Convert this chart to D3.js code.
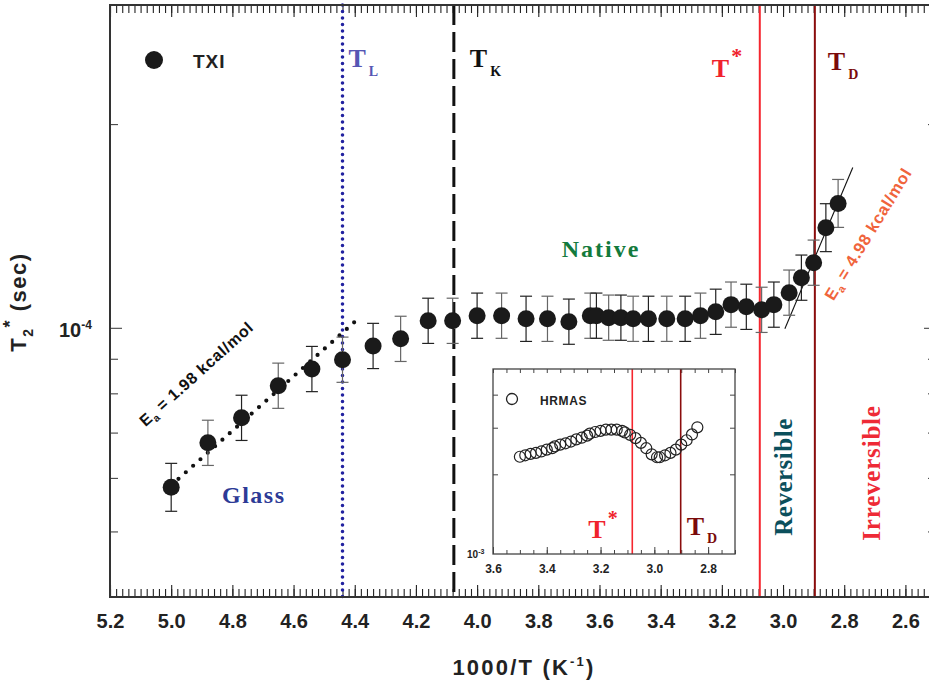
<!DOCTYPE html>
<html>
<head>
<meta charset="utf-8">
<script src="https://cdn.jsdelivr.net/npm/d3@7"></script>
<style>
body { margin: 0; background: #fff; }
text { font-family: "Liberation Sans", Arial, sans-serif; font-weight: bold; }
.serif { font-family: "Liberation Serif", "Times New Roman", serif; font-weight: bold; }
</style>
</head>
<body>
<div id="chart"></div>
<script>
// TXI: T2* (sec) against 1000/T
var invT = [5.00, 4.88, 4.77, 4.65, 4.54, 4.44, 4.34, 4.25, 4.16, 4.08,
    4.00, 3.92, 3.84, 3.77, 3.70, 3.63, 3.61, 3.57, 3.53, 3.49,
    3.44, 3.38, 3.32, 3.27, 3.22, 3.17, 3.12, 3.07, 3.03, 2.98,
    2.94, 2.90, 2.86, 2.82];
var t2 = [5.81e-5, 6.76e-5, 7.36e-5, 8.21e-5, 8.69e-5, 8.97e-5, 9.40e-5, 9.63e-5, 1.024e-4, 1.024e-4,
    1.042e-4, 1.042e-4, 1.031e-4, 1.031e-4, 1.021e-4, 1.042e-4, 1.042e-4, 1.035e-4, 1.035e-4, 1.031e-4,
    1.031e-4, 1.031e-4, 1.031e-4, 1.042e-4, 1.056e-4, 1.082e-4, 1.074e-4, 1.063e-4, 1.082e-4, 1.127e-4,
    1.186e-4, 1.248e-4, 1.406e-4, 1.527e-4];
// relative error (bars are symmetric on the log axis)
var t2Err = [0.085, 0.08, 0.08, 0.08, 0.08, 0.08, 0.08, 0.08, 0.08, 0.08,
    0.08, 0.08, 0.08, 0.08, 0.08, 0.08, 0.08, 0.08, 0.08, 0.08,
    0.08, 0.08, 0.08, 0.08, 0.08, 0.08, 0.08, 0.08, 0.08, 0.08,
    0.08, 0.08, 0.085, 0.085];

// HRMAS inset
var hrmasX = [3.50, 3.48, 3.46, 3.44, 3.42, 3.40, 3.38, 3.37, 3.35, 3.33,
    3.31, 3.29, 3.27, 3.25, 3.24, 3.22, 3.20, 3.18, 3.16, 3.14,
    3.12, 3.11, 3.09, 3.07, 3.05, 3.03, 3.01, 2.99, 2.98, 2.96,
    2.94, 2.92, 2.90, 2.88, 2.86, 2.84];
var hrmasY = [2.33e-3, 2.36e-3, 2.39e-3, 2.41e-3, 2.44e-3, 2.48e-3, 2.51e-3, 2.55e-3, 2.59e-3, 2.62e-3,
    2.66e-3, 2.71e-3, 2.75e-3, 2.80e-3, 2.85e-3, 2.89e-3, 2.92e-3, 2.95e-3, 2.95e-3, 2.95e-3,
    2.92e-3, 2.88e-3, 2.82e-3, 2.74e-3, 2.63e-3, 2.51e-3, 2.38e-3, 2.32e-3, 2.32e-3, 2.36e-3,
    2.41e-3, 2.48e-3, 2.59e-3, 2.69e-3, 2.83e-3, 3.01e-3];

var xTicks = [5.2, 5.0, 4.8, 4.6, 4.4, 4.2, 4.0, 3.8, 3.6, 3.4, 3.2, 3.0, 2.8, 2.6];
var yMinorTicks = [5e-5, 6e-5, 7e-5, 8e-5, 9e-5, 2e-4];
var insetXTicks = [3.6, 3.4, 3.2, 3.0, 2.8];
var insetYTicks = [2e-3, 3e-3, 4e-3];

// fits (Arrhenius lines)
var glassFitX = [5.0, 4.39], glassFitY = [5.85e-5, 1.03e-4];
var nativeFitX = [2.994, 2.772], nativeFitY = [9.97e-5, 1.726e-4];

// transition temperatures (1000/T)
var tL = 4.44, tK = 4.076, tStar = 3.076, tD = 2.896;
var insetTStar = 3.082, insetTD = 2.902;

var width = 929, height = 681;
var plotL = 110, plotR = 936, plotT = 5, plotB = 597;

var svg = d3.select("#chart")
    .append("svg")
    .attr("width", width)
    .attr("height", height);

var x = d3.scaleLinear().domain([5.2, 2.5]).range([plotL, plotR]);
var y = d3.scaleLog().domain([4e-5, 3e-4]).range([plotB, plotT]);

var minorX = d3.range(0, 136).map(function (i) { return +(5.2 - i * 0.02).toFixed(2); })
    .filter(function (v) { return v >= 2.5; });

// ticks (all pointing inward)
function xAxis(axisFn, ty, size, vals, labels) {
    var g = svg.append("g")
        .attr("transform", "translate(0," + ty + ")")
        .call(axisFn(x).tickValues(vals).tickSize(size).tickPadding(17)
            .tickFormat(labels ? d3.format(".1f") : ""));
    g.select(".domain").remove();
    g.selectAll("line").attr("stroke", "#222").attr("stroke-width", 1.1);
    g.selectAll("text").attr("font-size", 20).attr("fill", "#222");
}
xAxis(d3.axisBottom, plotB, -8, minorX, false);
xAxis(d3.axisBottom, plotB, -12, xTicks, true);
xAxis(d3.axisTop, plotT, -8, minorX, false);
xAxis(d3.axisTop, plotT, -12, xTicks, false);

function yAxis(axisFn, tx, size, vals) {
    var g = svg.append("g")
        .attr("transform", "translate(" + tx + ",0)")
        .call(axisFn(y).tickValues(vals).tickSize(size).tickFormat(""));
    g.select(".domain").remove();
    g.selectAll("line").attr("stroke", "#333");
}
yAxis(d3.axisLeft, plotL, -8, yMinorTicks);
yAxis(d3.axisLeft, plotL, -12, [1e-4]);
yAxis(d3.axisRight, plotR, -8, yMinorTicks);
yAxis(d3.axisRight, plotR, -12, [1e-4]);

var lab = svg.append("text")
    .attr("x", 59).attr("y", y(1e-4) + 9)
    .attr("font-size", 20).attr("fill", "#222");
lab.append("tspan").text("10");
lab.append("tspan").attr("font-size", 12).attr("dy", -8).text("-4");

// vertical transition lines
function vline(v, color, w, dash, cap) {
    svg.append("line")
        .attr("x1", x(v)).attr("x2", x(v))
        .attr("y1", plotT).attr("y2", plotB)
        .attr("stroke", color)
        .attr("stroke-width", w)
        .attr("stroke-dasharray", dash)
        .attr("stroke-linecap", cap || "butt");
}
vline(tL, "#2222a0", 3.6, "0,6.5", "round");
vline(tK, "#111", 3, "20,7");
vline(tStar, "#f5262e", 2, null);
vline(tD, "#8a0c0c", 2, null);

// fit lines
var line = d3.line()
    .x(function (d) { return x(d[0]); })
    .y(function (d) { return y(d[1]); });

svg.append("path")
    .datum(d3.zip(glassFitX, glassFitY))
    .attr("fill", "none")
    .attr("stroke", "#111")
    .attr("stroke-width", 4.2)
    .attr("stroke-linecap", "round")
    .attr("stroke-dasharray", "0,9.8")
    .attr("d", line);

svg.append("path")
    .datum(d3.zip(nativeFitX, nativeFitY))
    .attr("fill", "none")
    .attr("stroke", "#111")
    .attr("stroke-width", 1.1)
    .attr("d", line);

// error bars
var data = invT.map(function (v, i) {
    return { x: v, y: t2[i], lo: t2[i] / (1 + t2Err[i]), hi: t2[i] * (1 + t2Err[i]) };
});

var bars = svg.append("g")
    .selectAll("g")
    .data(data)
    .enter()
    .append("g")
    .attr("stroke", function (d, i) { return i % 2 ? "#666" : "#222"; })
    .attr("stroke-width", 1.2);
bars.append("line")
    .attr("x1", function (d) { return x(d.x); })
    .attr("x2", function (d) { return x(d.x); })
    .attr("y1", function (d) { return y(d.lo); })
    .attr("y2", function (d) { return y(d.hi); });
bars.append("line")
    .attr("x1", function (d) { return x(d.x) - 6; })
    .attr("x2", function (d) { return x(d.x) + 6; })
    .attr("y1", function (d) { return y(d.lo); })
    .attr("y2", function (d) { return y(d.lo); });
bars.append("line")
    .attr("x1", function (d) { return x(d.x) - 6; })
    .attr("x2", function (d) { return x(d.x) + 6; })
    .attr("y1", function (d) { return y(d.hi); })
    .attr("y2", function (d) { return y(d.hi); });

svg.append("g")
    .selectAll("circle")
    .data(data)
    .enter()
    .append("circle")
    .attr("cx", function (d) { return x(d.x); })
    .attr("cy", function (d) { return y(d.y); })
    .attr("r", 8.5)
    .attr("fill", "#1a1a1a");

// frame
svg.append("rect")
    .attr("x", plotL).attr("y", plotT)
    .attr("width", plotR - plotL).attr("height", plotB - plotT)
    .attr("fill", "none")
    .attr("stroke", "#333")
    .attr("stroke-width", 2);

// legend
svg.append("circle").attr("cx", 154).attr("cy", 60).attr("r", 9).attr("fill", "#1a1a1a");
svg.append("text").attr("x", 193).attr("y", 68)
    .attr("font-size", 19).attr("letter-spacing", 1).attr("fill", "#222").text("TXI");

// T labels
function tLabel(px, py, main, sub, color, isSup) {
    var t = svg.append("text").attr("class", "serif")
        .attr("x", px).attr("y", py)
        .attr("font-size", 26).attr("fill", color);
    t.append("tspan").text(main);
    if (isSup) {
        t.append("tspan").attr("font-size", 22).attr("dx", 2).attr("dy", -14).text(sub);
    } else {
        t.append("tspan").attr("font-size", 14).attr("dx", 3).attr("dy", 9).text(sub);
    }
}
tLabel(x(tL) + 6, 67, "T", "L", "#5656b4", false);
tLabel(x(tK) + 16, 67, "T", "K", "#111", false);
tLabel(x(tStar) - 48, 77, "T", "*", "#f0222c", true);
tLabel(x(tD) + 13, 70, "T", "D", "#7a0a0a", false);

// region labels
svg.append("text").attr("class", "serif")
    .attr("x", 601).attr("y", 257).attr("text-anchor", "middle")
    .attr("font-size", 24).attr("letter-spacing", 2).attr("fill", "#137a3c")
    .text("Native");
svg.append("text").attr("class", "serif")
    .attr("x", 222).attr("y", 503)
    .attr("font-size", 24).attr("letter-spacing", 1.5).attr("fill", "#2d3a96")
    .text("Glass");
svg.append("text").attr("class", "serif")
    .attr("transform", "translate(792,477) rotate(-90)").attr("text-anchor", "middle")
    .attr("font-size", 25).attr("letter-spacing", 0.5).attr("fill", "#0b4f5c")
    .text("Reversible");
svg.append("text").attr("class", "serif")
    .attr("transform", "translate(880,473) rotate(-90)").attr("text-anchor", "middle")
    .attr("font-size", 25).attr("letter-spacing", 0.8).attr("fill", "#ee2a36")
    .text("Irreversible");

// activation energies
function eaLabel(tx, ty, ang, val, color, fs) {
    var t = svg.append("text")
        .attr("transform", "translate(" + tx + "," + ty + ") rotate(" + ang + ")")
        .attr("text-anchor", "middle")
        .attr("font-size", fs).attr("letter-spacing", 0.7).attr("fill", color);
    t.append("tspan").text("E");
    t.append("tspan").attr("font-size", fs * 0.65).attr("dy", 4).text("a");
    t.append("tspan").attr("dy", -4).text(" = " + val + " kcal/mol");
}
eaLabel(200, 378, -42, "1.98", "#111", 16);
eaLabel(873, 237, -58.5, "4.98", "#f0643c", 16.5);

// axis titles
var yt = svg.append("text")
    .attr("transform", "translate(26,302) rotate(-90)")
    .attr("text-anchor", "middle")
    .attr("font-size", 22).attr("letter-spacing", 1.5).attr("fill", "#222");
yt.append("tspan").text("T");
yt.append("tspan").attr("font-size", 14).attr("dy", 7).text("2");
yt.append("tspan").attr("font-size", 18).attr("dy", -17).text("*");
yt.append("tspan").attr("dy", 10).text(" (sec)");

var xt = svg.append("text")
    .attr("x", 524).attr("y", 675)
    .attr("text-anchor", "middle")
    .attr("font-size", 22).attr("letter-spacing", 2.2).attr("fill", "#222");
xt.append("tspan").text("1000/T (K");
xt.append("tspan").attr("font-size", 13).attr("dy", -9).text("-1");
xt.append("tspan").attr("dy", 9).text(")");

// ---- inset ----
var ix = d3.scaleLinear().domain([3.6, 2.7]).range([493, 735]);
var iy = d3.scaleLog().domain([1e-3, 5e-3]).range([554, 369]);
var inset = svg.append("g");

inset.append("rect")
    .attr("x", 493).attr("y", 369)
    .attr("width", 242).attr("height", 185)
    .attr("fill", "#fff");

var iMinor = d3.range(0, 19).map(function (i) { return +(3.6 - i * 0.05).toFixed(2); });

function insetX(axisFn, ty, size, vals, labels) {
    var g = inset.append("g")
        .attr("transform", "translate(0," + ty + ")")
        .call(axisFn(ix).tickValues(vals).tickSize(size).tickPadding(10)
            .tickFormat(labels ? d3.format(".1f") : ""));
    g.select(".domain").remove();
    g.selectAll("line").attr("stroke", "#444");
    g.selectAll("text").attr("font-size", 12).attr("fill", "#222");
}
insetX(d3.axisBottom, 554, -4, iMinor, false);
insetX(d3.axisBottom, 554, -7, insetXTicks, true);
insetX(d3.axisTop, 369, -4, iMinor, false);

function insetY(axisFn, tx) {
    var g = inset.append("g")
        .attr("transform", "translate(" + tx + ",0)")
        .call(axisFn(iy).tickValues(insetYTicks).tickSize(-5).tickFormat(""));
    g.select(".domain").remove();
    g.selectAll("line").attr("stroke", "#444");
}
insetY(d3.axisLeft, 493);
insetY(d3.axisRight, 735);

var il = inset.append("text")
    .attr("x", 467).attr("y", 558)
    .attr("font-size", 10).attr("fill", "#222");
il.append("tspan").text("10");
il.append("tspan").attr("font-size", 7).attr("dy", -4).text("-3");

inset.append("line")
    .attr("x1", ix(insetTStar)).attr("x2", ix(insetTStar))
    .attr("y1", 369).attr("y2", 554)
    .attr("stroke", "#f5262e").attr("stroke-width", 1.6);
inset.append("line")
    .attr("x1", ix(insetTD)).attr("x2", ix(insetTD))
    .attr("y1", 369).attr("y2", 554)
    .attr("stroke", "#8a0c0c").attr("stroke-width", 1.6);

inset.append("g")
    .selectAll("circle")
    .data(d3.zip(hrmasX, hrmasY))
    .enter()
    .append("circle")
    .attr("cx", function (d) { return ix(d[0]); })
    .attr("cy", function (d) { return iy(d[1]); })
    .attr("r", 5.5)
    .attr("fill", "none")
    .attr("stroke", "#222")
    .attr("stroke-width", 1.2);

inset.append("rect")
    .attr("x", 493).attr("y", 369)
    .attr("width", 242).attr("height", 185)
    .attr("fill", "none")
    .attr("stroke", "#444")
    .attr("stroke-width", 1.3);

inset.append("circle").attr("cx", 512).attr("cy", 399).attr("r", 5.5)
    .attr("fill", "none").attr("stroke", "#222").attr("stroke-width", 1.3);
inset.append("text").attr("x", 540).attr("y", 405)
    .attr("font-size", 12).attr("letter-spacing", 0.6).attr("fill", "#222").text("HRMAS");

function insetLabel(px, py, sub, color, isSup) {
    var t = inset.append("text").attr("class", "serif")
        .attr("x", px).attr("y", py)
        .attr("font-size", 26).attr("fill", color);
    t.append("tspan").text("T");
    if (isSup) {
        t.append("tspan").attr("font-size", 20).attr("dx", 2).attr("dy", -13).text(sub);
    } else {
        t.append("tspan").attr("font-size", 14).attr("dx", 3).attr("dy", 8).text(sub);
    }
}
insetLabel(ix(insetTStar) - 44, 538, "*", "#f0222c", true);
insetLabel(ix(insetTD) + 6, 535, "D", "#7a0a0a", false);
</script>
</body>
</html>
